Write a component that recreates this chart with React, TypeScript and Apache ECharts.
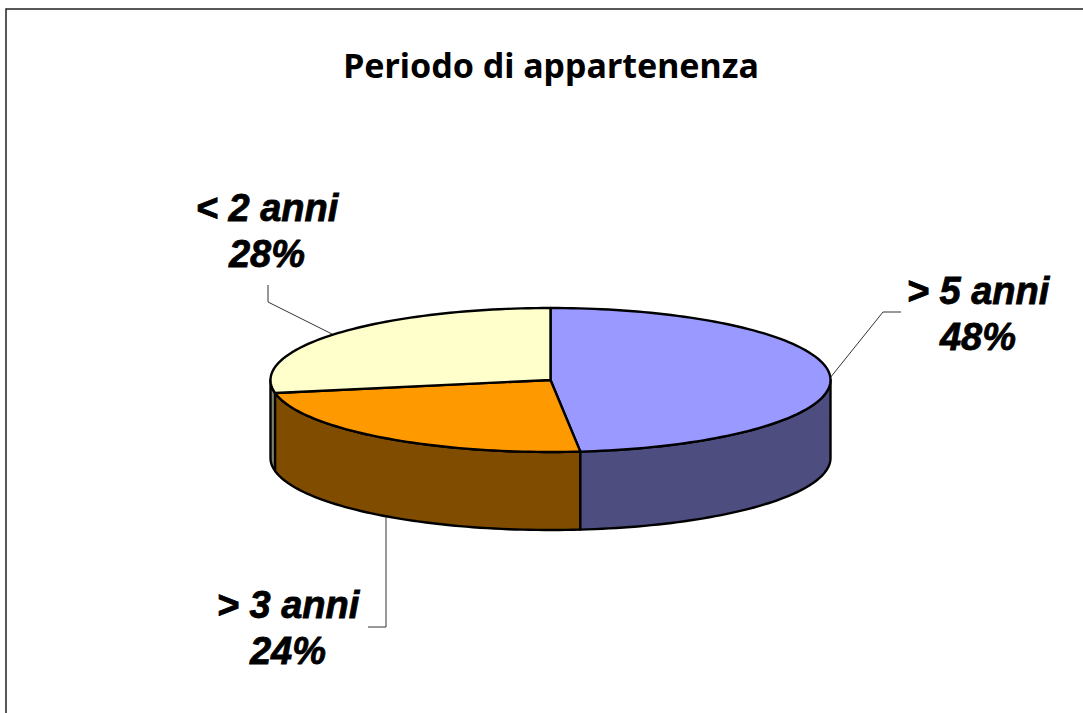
import React, { useEffect, useRef } from "react";
import * as echarts from "echarts";

const categories = ["> 5 anni", "> 3 anni", "< 2 anni"];
const shares = [48.3, 23.8, 27.9];
const topColors = ["#9999FF", "#FF9900", "#FFFFCC"];
const sideColors = ["#4D4D80", "#804C00", "#808066"];

const CX = 550.5, CY = 380, RX = 280, RY = 72, DEPTH = 78;
const labelPos = [
  { x: 978, y: 314 },
  { x: 288, y: 628 },
  { x: 267, y: 231 },
];
const leaders = [
  [[830, 378], [883, 312], [901, 312]],
  [[386, 517], [386, 627], [368, 627]],
  [[332, 334], [268, 302], [268, 285]],
];

const pt = (deg: number, dy = 0): number[] => {
  const t = (deg * Math.PI) / 180;
  return [CX + RX * Math.sin(t), CY - RY * Math.cos(t) + dy];
};
const arc = (a: number, b: number, dy = 0): number[][] => {
  const n = Math.max(2, Math.ceil(Math.abs(b - a) / 1.5));
  const out: number[][] = [];
  for (let i = 0; i <= n; i++) out.push(pt(a + ((b - a) * i) / n, dy));
  return out;
};

export default function App() {
  const ref = useRef<HTMLDivElement>(null);
  useEffect(() => {
    const chart = echarts.init(ref.current!, undefined, { renderer: "svg" });
    const total = shares.reduce((s, v) => s + v, 0);
    const starts: number[] = [];
    let acc = 0;
    shares.forEach((v) => {
      starts.push((acc / total) * 360);
      acc += v;
    });
    const line = { stroke: "#000", lineWidth: 2.4, lineJoin: "round" };
    chart.setOption({
      animation: false,
      backgroundColor: "#fff",
      title: {
        text: "Periodo di appartenenza",
        left: 546,
        top: 43,
        textAlign: "center",
        textStyle: {
          fontFamily: "'Comic Sans MS', 'Noto Sans', sans-serif",
          fontSize: 34,
          fontWeight: "bold",
          color: "#000",
          letterSpacing: 1,
        },
      },
      graphic: [
        {
          type: "polyline",
          silent: true,
          shape: { points: [[6, 713], [6, 9], [1083, 9]] },
          style: { stroke: "#222", lineWidth: 1.5, fill: "none" },
        },
      ],
      series: [
        {
          type: "custom",
          coordinateSystem: "none",
          silent: true,
          clip: false,
          data: shares.map((v, i) => ({ value: v, name: categories[i] })),
          renderItem: (params: any, api: any) => {
            const i = params.dataIndex;
            const a = starts[i];
            const b = a + (api.value(0) / total) * 360;
            const children: any[] = [];
            const lo = Math.max(a, 90), hi = Math.min(b, 270);
            if (hi > lo) {
              children.push({
                type: "polygon",
                z2: i === 2 ? 1 : i === 1 ? 2 : 3,
                shape: { points: [...arc(lo, hi), ...arc(hi, lo, DEPTH)] },
                style: { ...line, fill: sideColors[i] },
              });
            }
            children.push({
              type: "polygon",
              z2: 10,
              shape: { points: [[CX, CY], ...arc(a, b)] },
              style: { ...line, fill: topColors[i] },
            });
            children.push({
              type: "polyline",
              z2: 5,
              shape: { points: leaders[i] },
              style: { stroke: "#333", lineWidth: 1, fill: "none" },
            });
            children.push({
              type: "text",
              z2: 20,
              x: labelPos[i].x,
              y: labelPos[i].y,
              style: {
                text: `${categories[i]}\n${Math.round((api.value(0) / total) * 100)}%`,
                font: "italic bold 38px 'Liberation Sans', Arial, sans-serif",
                fill: "#000",
                stroke: "#000",
                lineWidth: 0.8,
                align: "center",
                verticalAlign: "middle",
                lineHeight: 46.5,
              },
            });
            return { type: "group", children };
          },
        },
      ],
    });
    return () => chart.dispose();
  }, []);
  return (
    <div
      ref={ref}
      style={{ position: "fixed", left: 0, top: 0, width: 1083, height: 713 }}
    />
  );
}
